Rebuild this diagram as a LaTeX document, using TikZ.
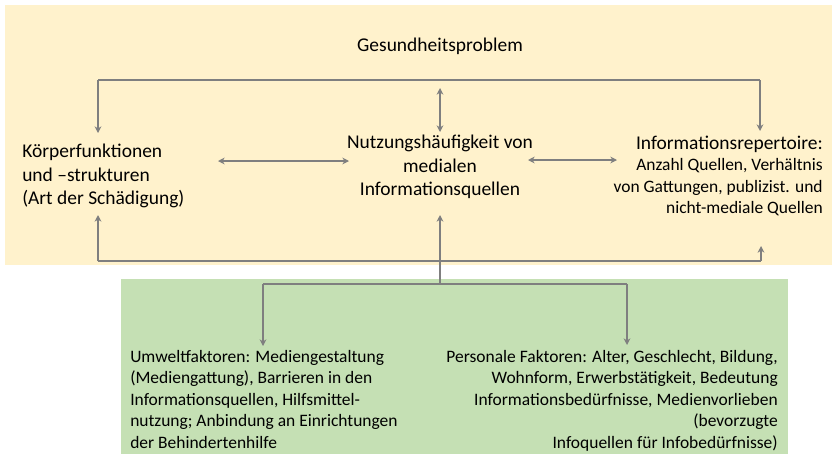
\documentclass[tikz,border=0pt]{standalone}
\usepackage{fontspec}
\setmainfont{Carlito}
\usetikzlibrary{arrows.meta,positioning}
\definecolor{panelgelb}{HTML}{FFF2CC}
\definecolor{panelgruen}{HTML}{C5E0B4}
\definecolor{pfeilgrau}{HTML}{7F7F7F}

\begin{document}
\begin{tikzpicture}[x=0.75pt,y=-0.75pt,
    pfeil/.style={draw=pfeilgrau, line width=1.5pt, -{Stealth[length=5pt,width=5pt]}},
    doppel/.style={draw=pfeilgrau, line width=1.5pt, {Stealth[length=5pt,width=5pt]}-{Stealth[length=5pt,width=5pt]}},
    linie/.style={draw=pfeilgrau, line width=1.5pt},
    txt/.style={font=\fontsize{14.6}{17.6}\selectfont, inner sep=0pt},
    kleintxt/.style={font=\fontsize{13.1}{16.1}\selectfont, inner sep=0pt}]
    \useasboundingbox (0,0) rectangle (832,454);
    \fill[panelgelb] (5,5) rectangle (832,265);
    \fill[panelgruen] (121,279) rectangle (788,454);

    \node[txt] (gp) at (440,46) {Gesundheitsproblem};
    \node[txt, anchor=west, align=left] (koerper) at (22,176)
        {Körperfunktionen\\und –strukturen\\(Art der Schädigung)};
    \node[txt, align=center] (nutzung) at (440,167)
        {Nutzungshäufigkeit von\\medialen\\Informationsquellen};
    \node[kleintxt, anchor=east, align=right] (repertoire) at (823,176)
        {{\fontsize{14.6}{17.6}\selectfont Informationsrepertoire:}\\Anzahl Quellen, Verhältnis\\von Gattungen, publizist. und\\nicht-mediale Quellen};
    \node[kleintxt, anchor=north west, align=left] (umwelt) at (130,350)
        {Umweltfaktoren: Mediengestaltung\\(Mediengattung), Barrieren in den\\Informationsquellen, Hilfsmittel-\\nutzung; Anbindung an Einrichtungen\\der Behindertenhilfe};
    \node[kleintxt, anchor=north east, align=right] (personal) at (778,350)
        {Personale Faktoren: Alter, Geschlecht, Bildung,\\Wohnform, Erwerbstätigkeit, Bedeutung\\Informationsbedürfnisse, Medienvorlieben\\(bevorzugte\\Infoquellen für Infobedürfnisse)};

    % Verbindungspunkte
    \coordinate (obenL) at (98,80);
    \coordinate (obenR) at (760,80);
    \coordinate (koerperO) at (98,133);
    \coordinate (reperO) at (760,131);
    \coordinate (untenL) at (98,261);
    \coordinate (untenR) at (761,261);
    \coordinate (koerperU) at (98,215);
    \coordinate (reperU) at (761,246);
    \coordinate (gpU) at (440,88);
    \coordinate (nutzO) at (440,132);
    \coordinate (nutzU) at (440,215);
    \coordinate (koerperR) at (218,161);
    \coordinate (nutzL) at (349,161);
    \coordinate (nutzR) at (528,160);
    \coordinate (reperL) at (617,160);
    \coordinate (knoten) at (440,284);
    \coordinate (astL) at (263,284);
    \coordinate (astR) at (627,284);
    \coordinate (umweltO) at (263,346);
    \coordinate (personalO) at (627,345);

    \draw[linie] (obenL) -- (obenR);
    \draw[pfeil] (obenL) -- (koerperO);
    \draw[pfeil] (obenR) -- (reperO);
    \draw[doppel] (gpU) -- (nutzO);
    \draw[doppel] (koerperR) -- (nutzL);
    \draw[doppel] (nutzR) -- (reperL);
    \draw[linie] (untenL) -- (untenR);
    \draw[pfeil] (untenL) -- (koerperU);
    \draw[pfeil] (untenR) -- (reperU);
    \draw[pfeil] (knoten) -- (nutzU);
    \draw[linie] (astL) -- (astR);
    \draw[pfeil] (astL) -- (umweltO);
    \draw[pfeil] (astR) -- (personalO);
\end{tikzpicture}
\end{document}
